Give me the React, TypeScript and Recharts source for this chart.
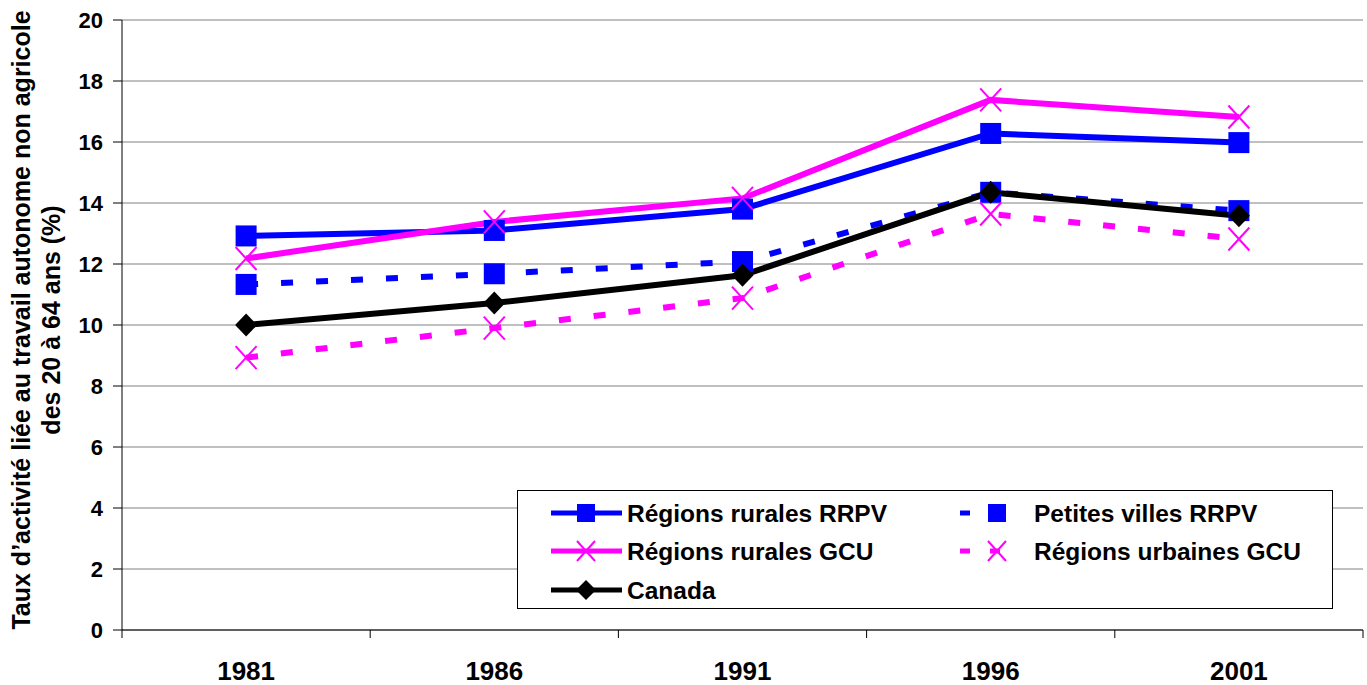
import React from 'react';
import { LineChart, Line, XAxis, YAxis, CartesianGrid, Legend } from 'recharts';

const years = ['1981', '1986', '1991', '1996', '2001'];
const ruralesRRPV = [12.92, 13.1, 13.8, 16.28, 15.98];
const petitesVillesRRPV = [11.33, 11.68, 12.08, 14.35, 13.75];
const ruralesGCU = [12.18, 13.38, 14.15, 17.38, 16.82];
const urbainesGCU = [8.93, 9.9, 10.88, 13.64, 12.82];
const canada = [10.0, 10.72, 11.63, 14.35, 13.58];
const yTicks = [0, 2, 4, 6, 8, 10, 12, 14, 16, 18, 20];

const data = years.map((y, i) => ({
  x: i + 0.5,
  year: y,
  rRRPV: ruralesRRPV[i],
  pvRRPV: petitesVillesRRPV[i],
  rGCU: ruralesGCU[i],
  uGCU: urbainesGCU[i],
  canada: canada[i],
}));

const BLUE = '#0000FF';
const MAGENTA = '#FF00FF';
const FONT = '"Liberation Sans", Arial, sans-serif';

const Square = (props: any) => {
  const { cx, cy, size = 21 } = props;
  if (cx == null || cy == null) return null;
  return <rect x={cx - size / 2} y={cy - size / 2} width={size} height={size} fill={BLUE} />;
};
const Cross = (props: any) => {
  const { cx, cy, w = 10.5, h = 11.5 } = props;
  if (cx == null || cy == null) return null;
  return (
    <g stroke={MAGENTA} strokeWidth={2}>
      <line x1={cx - w} y1={cy - h} x2={cx + w} y2={cy + h} />
      <line x1={cx - w} y1={cy + h} x2={cx + w} y2={cy - h} />
    </g>
  );
};
const Diamond = (props: any) => {
  const { cx, cy, w = 11, h = 11.5 } = props;
  if (cx == null || cy == null) return null;
  return <polygon points={`${cx},${cy - h} ${cx + w},${cy} ${cx},${cy + h} ${cx - w},${cy}`} fill="#000" />;
};

const XTick = (props: any) => {
  const { x, y, payload } = props;
  const v = payload.value;
  if (Math.abs(v - Math.round(v)) < 1e-6) {
    return <line x1={x} y1={y} x2={x} y2={y + 8} stroke="#000" strokeWidth={1} />;
  }
  const idx = Math.floor(v);
  return (
    <text x={x} y={y + 50} textAnchor="middle" fontFamily={FONT} fontWeight="bold" fontSize={26} fill="#000">
      {years[idx]}
    </text>
  );
};

const YLabel = () => (
  <g>
    <text
      transform="translate(30,320) rotate(-90)"
      textAnchor="middle"
      fontFamily={FONT}
      fontWeight="bold"
      fontSize={25}
      fill="#000"
    >
      Taux d’activité liée au travail autonome non agricole
    </text>
    <text
      transform="translate(60,320) rotate(-90)"
      textAnchor="middle"
      fontFamily={FONT}
      fontWeight="bold"
      fontSize={25}
      fill="#000"
    >
      des 20 à 64 ans (%)
    </text>
  </g>
);

const legendItems = [
  { label: 'Régions rurales RRPV', col: 0, row: 0, color: BLUE, dash: false, marker: 'square' },
  { label: 'Petites villes RRPV', col: 1, row: 0, color: BLUE, dash: true, marker: 'square' },
  { label: 'Régions rurales GCU', col: 0, row: 1, color: MAGENTA, dash: false, marker: 'cross' },
  { label: 'Régions urbaines GCU', col: 1, row: 1, color: MAGENTA, dash: true, marker: 'cross' },
  { label: 'Canada', col: 0, row: 2, color: '#000', dash: false, marker: 'diamond' },
];

const LegendContent = () => {
  const rowY = [23, 61, 100];
  return (
    <svg width={816} height={119} style={{ display: 'block' }}>
      <rect x={0.5} y={0.5} width={815} height={118} fill="#fff" stroke="#000" strokeWidth={1} />
      {legendItems.map((it) => {
        const cy = rowY[it.row];
        const x0 = it.col === 0 ? 34 : 443;
        const x1 = it.col === 0 ? 105 : 497;
        const mx = it.col === 0 ? 69 : 480;
        const tx = it.col === 0 ? 110 : 517;
        return (
          <g key={it.label}>
            <line
              x1={x0}
              y1={cy}
              x2={x1}
              y2={cy}
              stroke={it.color}
              strokeWidth={5}
              strokeDasharray={it.dash ? '10 20' : undefined}
            />
            {it.marker === 'square' && <Square cx={mx} cy={cy} size={18} />}
            {it.marker === 'cross' && <Cross cx={mx} cy={cy} w={9} h={10} />}
            {it.marker === 'diamond' && <Diamond cx={mx} cy={cy} w={10} h={10} />}
            <text x={tx} y={cy + 9} fontFamily={FONT} fontWeight="bold" fontSize={24.5} fill="#000">
              {it.label}
            </text>
          </g>
        );
      })}
    </svg>
  );
};

export default function App() {
  return (
    <div style={{ position: 'absolute', left: 0, top: 0, width: 1367, height: 685, background: '#fff' }}>
      <LineChart
        width={1367}
        height={685}
        data={data}
        margin={{ top: 20, right: 4, left: 0, bottom: 0 }}
        style={{ fontFamily: FONT }}
      >
        <CartesianGrid vertical={false} stroke="#808080" strokeWidth={1} />
        <XAxis
          dataKey="x"
          type="number"
          domain={[0, 5]}
          ticks={[0, 0.5, 1, 1.5, 2, 2.5, 3, 3.5, 4, 4.5, 5]}
          interval={0}
          tickLine={false}
          tickSize={0}
          tickMargin={0}
          height={55}
          axisLine={{ stroke: '#000', strokeWidth: 1 }}
          tick={<XTick />}
          allowDecimals
        />
        <YAxis
          domain={[0, 20]}
          ticks={yTicks}
          interval={0}
          width={122}
          tickSize={9}
          tickMargin={10}
          axisLine={{ stroke: '#000', strokeWidth: 1 }}
          tickLine={{ stroke: '#000', strokeWidth: 1 }}
          tick={{ fill: '#000', fontSize: 22, fontWeight: 'bold', fontFamily: FONT }}
          label={<YLabel />}
        />
        <Legend
          layout="vertical"
          align="center"
          verticalAlign="middle"
          content={<LegendContent />}
          wrapperStyle={{ left: 517, top: 490, width: 816, height: 119 }}
        />
        <Line
          dataKey="rRRPV"
          name="Régions rurales RRPV"
          stroke={BLUE}
          strokeWidth={6}
          dot={<Square />}
          activeDot={false}
          isAnimationActive={false}
        />
        <Line
          dataKey="pvRRPV"
          name="Petites villes RRPV"
          stroke={BLUE}
          strokeWidth={6}
          strokeDasharray="12 23"
          dot={<Square />}
          activeDot={false}
          isAnimationActive={false}
        />
        <Line
          dataKey="rGCU"
          name="Régions rurales GCU"
          stroke={MAGENTA}
          strokeWidth={6}
          dot={<Cross />}
          activeDot={false}
          isAnimationActive={false}
        />
        <Line
          dataKey="uGCU"
          name="Régions urbaines GCU"
          stroke={MAGENTA}
          strokeWidth={6}
          strokeDasharray="12 23"
          dot={<Cross />}
          activeDot={false}
          isAnimationActive={false}
        />
        <Line
          dataKey="canada"
          name="Canada"
          stroke="#000"
          strokeWidth={6}
          dot={<Diamond />}
          activeDot={false}
          isAnimationActive={false}
        />
      </LineChart>
    </div>
  );
}
